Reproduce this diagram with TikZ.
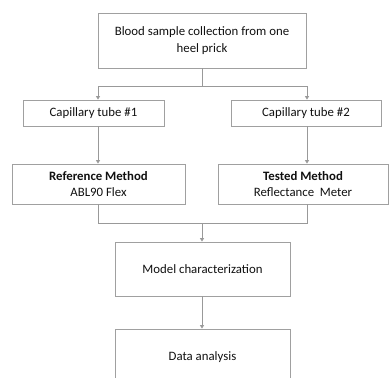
\documentclass[tikz,border=0pt]{standalone}
\usepackage{fontspec}
\setmainfont{Carlito}
\usetikzlibrary{arrows.meta}
\definecolor{boxc}{HTML}{A0A0A0}
\definecolor{linec}{HTML}{999999}
\definecolor{txt}{HTML}{111111}
\begin{document}
\begin{tikzpicture}[x=1pt,y=-1pt,
  box/.style={draw=boxc,line width=0.8pt,fill=white,text=txt,inner sep=0pt,align=center,
    font=\fontsize{12.8}{17}\selectfont},
  conn/.style={draw=linec,line width=0.8pt},
  arr/.style={conn,-{Triangle[width=4pt,length=3.5pt]}}]
\useasboundingbox (0,0) rectangle (389,378);
\clip (0,0) rectangle (389,378);
\node[box,minimum width=208pt,minimum height=55pt] (top) at (202,40.5) {Blood sample collection from one\\heel prick};
\node[box,minimum width=141pt,minimum height=26pt] (c1) at (93.5,113) {Capillary tube \#1};
\node[box,minimum width=150pt,minimum height=26pt] (c2) at (306,113) {Capillary tube \#2};
\node[box,minimum width=173pt,minimum height=40pt,font=\fontsize{12.8}{15.5}\selectfont] (ref) at (98.5,184) {\textbf{Reference Method}\\ABL90 Flex};
\node[box,minimum width=170pt,minimum height=40pt,font=\fontsize{12.8}{15.5}\selectfont] (tst) at (303,184) {\textbf{Tested Method}\\Reflectance\ \ Meter};
\node[box,minimum width=175pt,minimum height=54pt] (mod) at (202.5,269) {Model characterization};
\node[box,minimum width=175pt,minimum height=56pt] (dat) at (202.5,357) {Data analysis};
% split from top
\coordinate (j1) at (202,86);
\coordinate (j1l) at (98,86);
\coordinate (j1r) at (307,86);
\draw[conn] (top.south) -- (j1);
\draw[conn] (j1l) -- (j1r);
\draw[arr] (j1l) -- (j1l |- c1.north);
\draw[arr] (j1r) -- (j1r |- c2.north);
% tubes to methods
\draw[arr] (j1l |- c1.south) -- (j1l |- ref.north);
\draw[arr] (j1r |- c2.south) -- (j1r |- tst.north);
% merge
\coordinate (j2l) at (98,223);
\coordinate (j2r) at (307,223);
\coordinate (j2) at (202,223);
\draw[conn] (j2l |- ref.south) -- (j2l) -- (j2r) -- (j2r |- tst.south);
\draw[arr] (j2) -- (j2 |- mod.north);
\draw[arr] (j2 |- mod.south) -- (j2 |- dat.north);
\end{tikzpicture}
\end{document}
